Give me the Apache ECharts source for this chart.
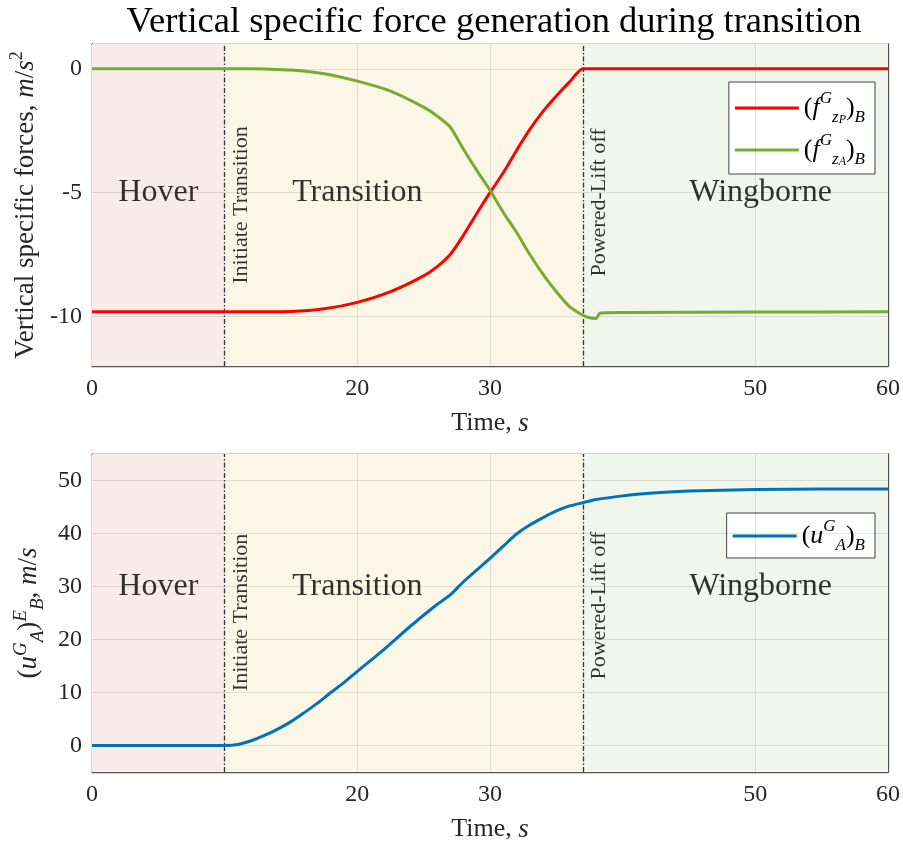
<!DOCTYPE html>
<html>
<head>
<meta charset="utf-8">
<script src="https://cdn.jsdelivr.net/npm/echarts@6/dist/echarts.min.js"></script>
<style>
  html, body { margin: 0; padding: 0; background: #fff; }
  #chart { width: 903px; height: 844px; }
</style>
</head>
<body>
<div id="chart"></div>
<script>
// Specific force components during the hover -> wingborne transition
const timeF = [0, 10, 12, 13, 15, 17.5, 20, 22.5, 25, 26, 27, 28, 29, 30, 31, 32, 33, 34, 35, 36, 37, 37.5, 38, 38.3, 40, 50, 60];
const fzP = [-9.81, -9.81, -9.81, -9.81, -9.8, -9.69, -9.43, -9.0, -8.36, -8.0, -7.5, -6.72, -5.84, -5.0, -4.2, -3.3, -2.45, -1.72, -1.1, -0.53, 0, 0, 0, 0, 0, 0, 0];
const fzA = [0, 0, 0, -0.01, -0.05, -0.2, -0.5, -0.9, -1.55, -1.9, -2.35, -3.25, -4.1, -4.9, -5.8, -6.6, -7.5, -8.3, -9.0, -9.6, -9.95, -10.05, -10.08, -9.86, -9.84, -9.82, -9.81];

// Airspeed component
const timeU = [0, 10, 11, 12, 13, 14, 15, 16, 17, 18, 19, 20, 22, 24, 26, 27, 28, 30, 31, 32, 33, 34, 35, 36, 37, 38, 40, 42, 45, 50, 55, 60];
const uA = [0, 0, 0.2, 0.9, 1.9, 3.1, 4.5, 6.2, 8.0, 10.0, 11.9, 14.0, 18.1, 22.5, 26.6, 28.4, 30.9, 35.3, 37.6, 39.9, 41.6, 43.0, 44.25, 45.2, 45.8, 46.4, 47.1, 47.6, 48.0, 48.3, 48.4, 48.4];

// Flight phases
const phaseBounds = [0, 10, 37, 60];
const phaseColors = ['#f9ebe7', '#fcf6e7', '#f0f6eb'];
const phaseNames = ['Hover', 'Transition', 'Wingborne'];
const phaseLabelX = [5, 20, 50.4];
const eventX = [10, 37];
const eventNames = ['Initiate Transition', 'Powered-Lift off'];

// Axis ticks
const xTicks = [0, 20, 30, 50, 60];
const xGridLines = [20, 30, 50];
const yTicksF = [-10, -5, 0];
const yTicksU = [0, 10, 20, 30, 40, 50];

const FONT = 'Liberation Serif';
const AXIS_COLOR = '#555';
const TEXT_COLOR = '#262626';
const GRID_COLOR = 'rgba(0,0,0,0.1)';

const richMath = {
  i: { fontFamily: FONT, fontStyle: 'italic', fontSize: 27, color: TEXT_COLOR },
  n: { fontFamily: FONT, fontSize: 27, color: TEXT_COLOR },
  sup: { fontFamily: FONT, fontStyle: 'italic', fontSize: 19, color: TEXT_COLOR, verticalAlign: 'top', lineHeight: 36 },
  sub: { fontFamily: FONT, fontStyle: 'italic', fontSize: 19, color: TEXT_COLOR, verticalAlign: 'bottom', lineHeight: 36 },
  supn: { fontFamily: FONT, fontSize: 18, color: TEXT_COLOR, verticalAlign: 'top', lineHeight: 34 }
};

const legendRich = {
  n: { fontFamily: FONT, fontSize: 26, color: '#000', lineHeight: 36 },
  i: { fontFamily: FONT, fontStyle: 'italic', fontSize: 26, color: '#000', lineHeight: 36 },
  sup: { fontFamily: FONT, fontStyle: 'italic', fontSize: 17, color: '#000', verticalAlign: 'top', lineHeight: 36 },
  sub: { fontFamily: FONT, fontStyle: 'italic', fontSize: 17, color: '#000', verticalAlign: 'bottom', lineHeight: 36 },
  subsub: { fontFamily: FONT, fontStyle: 'italic', fontSize: 12, color: '#000', verticalAlign: 'bottom', lineHeight: 30 }
};

const legendText = {
  fzP: '{n|(}{i|f}{sup|G}{sub|z}{subsub|P}{n|)}{sub|B}',
  fzA: '{n|(}{i|f}{sup|G}{sub|z}{subsub|A}{n|)}{sub|B}',
  uA: '{n|(}{i|u}{sup|G}{sub|A}{n|)}{sub|B}'
};

const grids = [
  { left: 92, top: 44, width: 797, height: 322 },
  { left: 92, top: 454, width: 797, height: 319 }
];
const yRanges = [{ min: -12, max: 1, ticks: yTicksF }, { min: -5, max: 55, ticks: yTicksU }];

const boxLine = { show: true, onZero: false, lineStyle: { color: AXIS_COLOR, width: 1.4 } };

function xAxisFor(gi) {
  return {
    type: 'value', gridIndex: gi, min: 0, max: 60, position: 'bottom',
    axisLine: boxLine,
    axisTick: { show: true, inside: true, length: 7, customValues: xTicks, lineStyle: { color: AXIS_COLOR } },
    axisLabel: { customValues: xTicks, fontFamily: FONT, fontSize: 24, color: TEXT_COLOR, margin: 11 },
    splitLine: { show: false },
    name: 'Time, {i|s}', nameLocation: 'middle', nameGap: 44,
    nameTextStyle: { fontFamily: FONT, fontSize: 26, color: TEXT_COLOR, rich: richMath }
  };
}
function xTopFor(gi) {
  return {
    type: 'value', gridIndex: gi, min: 0, max: 60, position: 'top',
    axisLine: boxLine,
    axisTick: { show: true, inside: true, length: 7, customValues: xTicks, lineStyle: { color: AXIS_COLOR } },
    axisLabel: { show: false }, splitLine: { show: false }
  };
}
function yAxisFor(gi, name, gap) {
  const r = yRanges[gi];
  return {
    type: 'value', gridIndex: gi, min: r.min, max: r.max, position: 'left',
    axisLine: boxLine,
    axisTick: { show: true, inside: true, length: 7, customValues: r.ticks, lineStyle: { color: AXIS_COLOR } },
    axisLabel: { customValues: r.ticks, fontFamily: FONT, fontSize: 24, color: TEXT_COLOR, margin: 10 },
    splitLine: { show: false },
    name: name, nameLocation: 'middle', nameGap: gap, nameRotate: 90,
    nameTextStyle: { fontFamily: FONT, fontSize: 27, color: TEXT_COLOR, rich: richMath }
  };
}
function yRightFor(gi) {
  const r = yRanges[gi];
  return {
    type: 'value', gridIndex: gi, min: r.min, max: r.max, position: 'right',
    axisLine: boxLine,
    axisTick: { show: true, inside: true, length: 7, customValues: r.ticks, lineStyle: { color: AXIS_COLOR } },
    axisLabel: { show: false }, splitLine: { show: false }
  };
}

function zip(xs, ys) { return xs.map((x, i) => [x, ys[i]]); }

function backgroundSeries(gi) {
  const areas = phaseColors.map((c, k) => [
    { xAxis: phaseBounds[k], itemStyle: { color: c } },
    { xAxis: phaseBounds[k + 1] }
  ]);
  return {
    type: 'line', xAxisIndex: gi, yAxisIndex: gi, data: [], z: -2, silent: true,
    markArea: { silent: true, data: areas, label: { show: false } }
  };
}
function gridLineSeries(gi) {
  const vLines = xGridLines.map(v => ({ xAxis: v }));
  const hLines = yRanges[gi].ticks.map(v => ({ yAxis: v }));
  return {
    type: 'line', xAxisIndex: gi, yAxisIndex: gi, data: [], z: -1, silent: true,
    markLine: {
      silent: true, symbol: 'none', label: { show: false },
      lineStyle: { color: GRID_COLOR, type: 'solid', width: 1 },
      data: vLines.concat(hLines)
    }
  };
}
function eventLineSeries(gi) {
  return {
    type: 'line', xAxisIndex: gi, yAxisIndex: gi, data: [], z: 3, silent: true,
    markLine: {
      silent: true, symbol: 'none', label: { show: false },
      lineStyle: { color: '#333', type: [5, 2, 1.5, 2], width: 1.3 },
      data: eventX.map(v => ({ xAxis: v }))
    }
  };
}
function phaseLabelSeries(gi, yVal) {
  return {
    type: 'scatter', xAxisIndex: gi, yAxisIndex: gi, symbolSize: 0, silent: true, z: 4,
    data: phaseNames.map((n, k) => ({ name: n, value: [phaseLabelX[k], yVal] })),
    label: { show: true, position: 'inside', formatter: p => p.name, fontFamily: FONT, fontSize: 32, color: '#000' }
  };
}
function eventLabelSeries(gi, yVals) {
  return {
    type: 'scatter', xAxisIndex: gi, yAxisIndex: gi, symbolSize: 0, silent: true, z: 4,
    data: eventNames.map((n, k) => ({ name: n, value: [eventX[k] + 1.25, yVals[k]] })),
    label: { show: true, position: 'inside', rotate: 90, formatter: p => p.name, fontFamily: FONT, fontSize: 22, color: '#000' }
  };
}

const chart = echarts.init(document.getElementById('chart'), null, { renderer: 'canvas' });
chart.setOption({
  animation: false,
  backgroundColor: '#fff',
  title: {
    text: 'Vertical specific force generation during transition',
    left: 489, top: -1, textAlign: 'center',
    textStyle: { fontFamily: FONT, fontSize: 36.5, fontWeight: 'normal', color: '#000' }
  },
  grid: grids,
  legend: [
    {
      data: ['fzP', 'fzA'], orient: 'vertical', right: 28, top: 82,
      itemWidth: 64, itemHeight: 3, itemGap: 6,
      backgroundColor: '#fff', borderColor: '#444', borderWidth: 1, padding: [8, 10, 6, 6],
      icon: 'rect', formatter: n => legendText[n], textStyle: { rich: legendRich }
    },
    {
      data: ['uA'], orient: 'vertical', right: 28, top: 513,
      itemWidth: 64, itemHeight: 3,
      backgroundColor: '#fff', borderColor: '#444', borderWidth: 1, padding: [5, 10, 4, 6],
      icon: 'rect', formatter: n => legendText[n], textStyle: { rich: legendRich }
    }
  ],
  xAxis: [xAxisFor(0), xAxisFor(1), xTopFor(0), xTopFor(1)],
  yAxis: [
    yAxisFor(0, 'Vertical specific forces, {i|m}/{i|s}{supn|2}', 47),
    yAxisFor(1, '{n|(}{i|u}{sup|G}{sub|A}{n|)}{sup|E}{sub|B}{n|, }{i|m}/{i|s}', 35),
    yRightFor(0), yRightFor(1)
  ],
  series: [
    backgroundSeries(0), backgroundSeries(1),
    gridLineSeries(0), gridLineSeries(1),
    eventLineSeries(0), eventLineSeries(1),
    phaseLabelSeries(0, -5), phaseLabelSeries(1, 30),
    eventLabelSeries(0, [-5.5, -5.4]), eventLabelSeries(1, [25.1, 26.4]),
    {
      name: 'fzP', type: 'line', xAxisIndex: 0, yAxisIndex: 0, data: zip(timeF, fzP),
      showSymbol: false, smooth: 0.25, z: 5,
      lineStyle: { color: '#ff0000', width: 3 }, itemStyle: { color: '#ff0000' }
    },
    {
      name: 'fzA', type: 'line', xAxisIndex: 0, yAxisIndex: 0, data: zip(timeF, fzA),
      showSymbol: false, smooth: 0.25, z: 5,
      lineStyle: { color: '#77ac30', width: 3 }, itemStyle: { color: '#77ac30' }
    },
    {
      name: 'uA', type: 'line', xAxisIndex: 1, yAxisIndex: 1, data: zip(timeU, uA),
      showSymbol: false, smooth: 0.25, z: 5,
      lineStyle: { color: '#0072bd', width: 3 }, itemStyle: { color: '#0072bd' }
    }
  ]
});
</script>
</body>
</html>
